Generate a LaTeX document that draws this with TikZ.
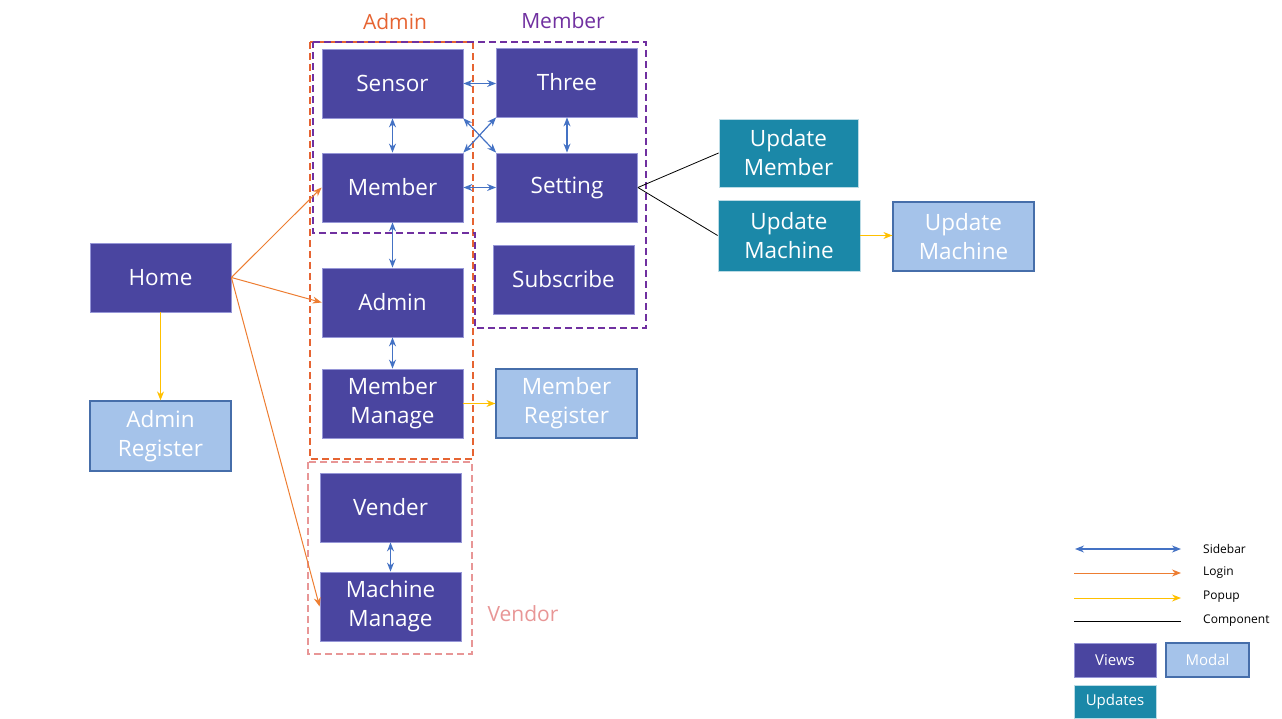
\documentclass[tikz,border=0pt]{standalone}
\usepackage{fontspec}
\setmainfont{Open Sans}
\usetikzlibrary{arrows.meta}
\definecolor{view}{RGB}{74,69,160}
\definecolor{viewb}{RGB}{150,150,215}
\definecolor{modal}{RGB}{165,195,234}
\definecolor{modalb}{RGB}{70,110,170}
\definecolor{upd}{RGB}{27,136,168}
\definecolor{side}{RGB}{68,114,196}
\definecolor{login}{RGB}{237,125,49}
\definecolor{popup}{RGB}{255,192,0}
\definecolor{adm}{RGB}{230,100,50}
\definecolor{mem}{RGB}{112,48,160}
\definecolor{ven}{RGB}{232,150,150}
\tikzset{
  box/.style={minimum width=141pt, minimum height=69pt, inner sep=0pt, text=white, align=center, font=\fontsize{22.5}{29}\selectfont},
  viewbox/.style={box, fill=view, draw=viewb, line width=0.8pt},
  modalbox/.style={box, fill=modal, draw=modalb, line width=1.2pt},
  updbox/.style={box, fill=upd, draw=white!70!upd, line width=0.8pt},
  sidebar/.style={draw=side, line width=1.2pt, {Stealth[length=9pt,width=7pt]}-{Stealth[length=9pt,width=7pt]}},
  loginarr/.style={draw=login, line width=1pt, -{Stealth[length=9pt,width=7pt]}},
  popuparr/.style={draw=popup, line width=1pt, -{Stealth[length=9pt,width=7pt]}},
  comp/.style={draw=black, line width=0.8pt},
  frame/.style={dashed, dash pattern=on 7pt off 4pt, line width=1.6pt},
  grptitle/.style={font=\fontsize{21}{24}\selectfont, inner sep=0pt},
  legtext/.style={font=\fontsize{12}{14}\selectfont, anchor=west, inner sep=0pt},
  legbox/.style={font=\fontsize{15}{17}\selectfont},
}
\begin{document}
\begin{tikzpicture}[x=1pt,y=-1pt]
\useasboundingbox (0,0) rectangle (1282,719);
% frames
\draw[frame, draw=adm] (310,42) rectangle (473,459);
\draw[frame, draw=mem] (313,42) -- (646,42) -- (646,328) -- (475,328) -- (475,233) -- (313,233) -- cycle;
\draw[frame, draw=ven] (308,462) rectangle (472,654);
\node[grptitle, text=adm] (tadm) at (395,22) {Admin};
\node[grptitle, text=mem] (tmem) at (563,21) {Member};
\node[grptitle, text=ven] (tven) at (523,614) {Vendor};
% views
\node[viewbox] (sensor) at (392.5,83.5) {Sensor};
\node[viewbox] (three) at (567,82.5) {Three};
\node[viewbox] (member) at (392.5,187.5) {Member};
\node[viewbox] (setting) at (567,187.5) {Setting};
\node[viewbox] (subscribe) at (563.5,279.5) {Subscribe};
\node[viewbox] (admin) at (392.5,302.5) {Admin};
\node[viewbox] (mmanage) at (392.5,403.5) {Member\\Manage};
\node[viewbox] (vender) at (390.5,507.5) {Vender};
\node[viewbox] (machine) at (390.5,606.5) {Machine\\Manage};
\node[viewbox] (home) at (160.5,277.5) {Home};
\node[modalbox, minimum height=70pt] (areg) at (160.5,436) {Admin\\Register};
\node[modalbox] (mreg) at (566.5,403.5) {Member\\Register};
\node[updbox, minimum width=139pt, minimum height=68pt] (updmem) at (788.5,153) {Update\\Member};
\node[updbox, minimum width=142pt, minimum height=71pt] (updmach) at (789,235.5) {Update\\Machine};
\node[modalbox] (updmodal) at (963.5,236.5) {Update\\Machine};
% sidebar
\draw[sidebar] (sensor.east) -- (sensor.east -| three.west);
\draw[sidebar] (sensor.south) -- (member.north);
\draw[sidebar] (three.south) -- (setting.north);
\draw[sidebar] (sensor.south east) -- (setting.north west);
\draw[sidebar] (member.north east) -- (three.south west);
\draw[sidebar] (member.east) -- (setting.west);
\draw[sidebar] (member.south) -- (admin.north);
\draw[sidebar] (admin.south) -- (mmanage.north);
\draw[sidebar] (vender.south) -- (machine.north);
% login
\draw[loginarr] (home.east) -- (member.west);
\draw[loginarr] (home.east) -- (admin.west);
\draw[loginarr] (home.east) -- (machine.west);
% popup
\draw[popuparr] (home.south) -- (areg.north);
\draw[popuparr] (mmanage.east) -- (mreg.west);
\draw[popuparr] (updmach.east) -- (updmach.east -| updmodal.west);
% component
\draw[comp] (setting.east) -- (updmem.west);
\draw[comp] (setting.east) -- (updmach.west);
% legend
\coordinate (la1) at (1075,549); \coordinate (la2) at (1181,549);
\coordinate (lb1) at (1074,573); \coordinate (lb2) at (1181,573);
\coordinate (lc1) at (1074,598); \coordinate (lc2) at (1181,598);
\coordinate (ld1) at (1074,621); \coordinate (ld2) at (1181,621);
\draw[sidebar] (la1) -- (la2);
\draw[loginarr] (lb1) -- (lb2);
\draw[popuparr] (lc1) -- (lc2);
\draw[comp] (ld1) -- (ld2);
\node[legtext] (lsa) at (1203,549) {Sidebar};
\node[legtext] (lsb) at (1203,573) {Login};
\node[legtext] (lsc) at (1203,597) {Popup};
\node[legtext] (lsd) at (1203,621) {Component};
\node[viewbox, legbox, minimum width=82pt, minimum height=34pt] (lviews) at (1115,660) {Views};
\node[modalbox, legbox, minimum width=83pt, minimum height=34pt] (lmodal) at (1207.5,660) {Modal};
\node[updbox, legbox, minimum width=82pt, minimum height=33pt] (lupd) at (1115,702) {Updates};
\end{tikzpicture}
\end{document}
